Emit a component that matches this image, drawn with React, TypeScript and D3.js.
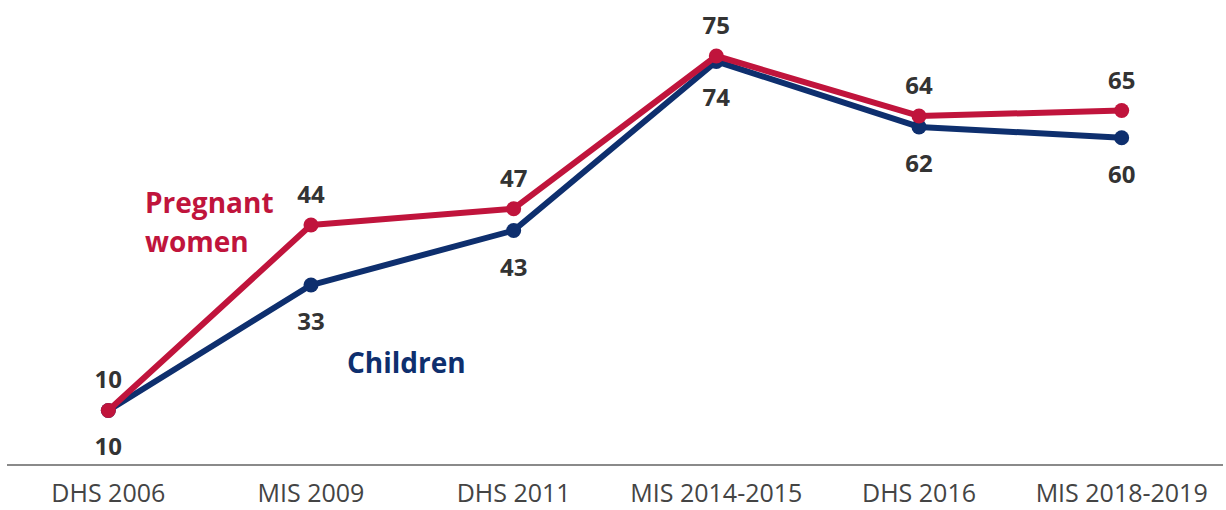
import React from "react";
import * as d3 from "d3";

const categories = ["DHS 2006", "MIS 2009", "DHS 2011", "MIS 2014-2015", "DHS 2016", "MIS 2018-2019"];
const pregnantWomen = [10, 44, 47, 75, 64, 65];
const children = [10, 33, 43, 74, 62, 60];

const W = 1226;
const H = 510;
const RED = "#C0143C";
const BLUE = "#0E2F6E";

export default function App() {
  const x = d3.scalePoint<string>().domain(categories).range([7, 1223]).padding(0.5);
  const y = d3.scaleLinear().domain([0, 75]).range([465, 56]);

  const line = d3
    .line<number>()
    .x((_, i) => x(categories[i]) as number)
    .y((d) => y(d));

  const series = [
    { name: "Children", values: children, color: BLUE, labelPos: "below" },
    { name: "Pregnant women", values: pregnantWomen, color: RED, labelPos: "above" },
  ];

  return (
    <svg
      width={W}
      height={H}
      style={{ position: "absolute", left: 0, top: 0, background: "#fff" }}
    >
      <line x1={7} x2={1223} y1={y(0)} y2={y(0)} stroke="#8a8a8a" strokeWidth={2} />
      {categories.map((c) => (
        <text
          key={c}
          x={x(c)}
          y={502}
          textAnchor="middle"
          fontFamily="'Open Sans', sans-serif"
          fontSize={25}
          fill="#444"
        >
          {c}
        </text>
      ))}
      {series.map((s) => (
        <g key={s.name}>
          <path d={line(s.values) || ""} fill="none" stroke={s.color} strokeWidth={6} strokeLinejoin="round" />
          {s.values.map((v, i) => (
            <circle key={i} cx={x(categories[i])} cy={y(v)} r={7.5} fill={s.color} />
          ))}
        </g>
      ))}
      {series.map((s) =>
        s.values.map((v, i) => (
          <text
            key={s.name + i}
            x={x(categories[i])}
            y={s.labelPos === "above" ? y(v) - 22 : y(v) + 45}
            textAnchor="middle"
            fontFamily="'Open Sans', sans-serif"
            fontWeight={700}
            fontSize={24}
            fill="#333"
          >
            {v}
          </text>
        ))
      )}
      <text x={145} y={213} fontFamily="'Open Sans', sans-serif" fontWeight={700} fontSize={28} fill={RED}>
        Pregnant
      </text>
      <text x={145} y={252} fontFamily="'Open Sans', sans-serif" fontWeight={700} fontSize={28} fill={RED}>
        women
      </text>
      <text x={347} y={373} fontFamily="'Open Sans', sans-serif" fontWeight={700} fontSize={28} fill={BLUE}>
        Children
      </text>
    </svg>
  );
}
